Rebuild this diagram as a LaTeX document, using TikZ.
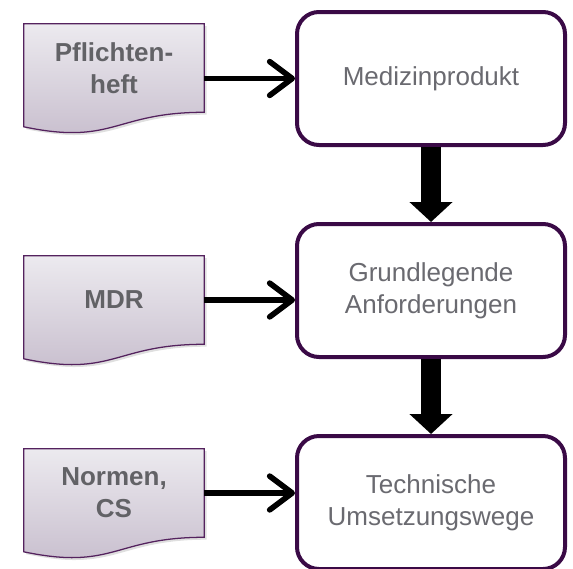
\documentclass[tikz,border=0pt]{standalone}
\usepackage{fontspec}
\setmainfont{Liberation Sans}
\usepackage{xcolor}
\usepackage{tikz}
\usetikzlibrary{calc, arrows.meta, positioning, backgrounds, shadows}
\definecolor{StagePurple}{RGB}{58, 10, 70}
\definecolor{DocPurple}{RGB}{84, 34, 94}
\definecolor{DocTop}{RGB}{236, 234, 239}
\definecolor{DocBottom}{RGB}{198, 188, 204}
\definecolor{StageGrey}{RGB}{106, 106, 112}
\definecolor{DocGrey}{RGB}{98, 98, 102}

\begin{document}
\begin{tikzpicture}[
    node distance=1.875cm,
    stage/.style={rectangle, rounded corners=0.55cm, draw=StagePurple, line width=0.1cm, fill=white, minimum width=6.7cm, minimum height=3.325cm, align=center, text=StageGrey, font=\fontsize{18.5}{22.8}\selectfont},
    doc/.style={rectangle, minimum width=4.5cm, minimum height=2.2cm, align=center, text=DocGrey, font=\bfseries\fontsize{18.5}{22.8}\selectfont},
    docpage/.style={draw=DocPurple, line width=0.9pt, top color=DocTop, bottom color=DocBottom, drop shadow={opacity=0.25, shadow xshift=0.06cm, shadow yshift=-0.06cm}},
    feed/.style={-{Straight Barb[length=0pt 4, width=0pt 6, round]}, line width=4pt},
    flow/.style={-{Triangle[length=0pt 1, width=0pt 2.1]}, line width=0.5cm}
  ]
  \useasboundingbox (0,0) rectangle (14.325,-14.2);

  \node[stage] (med) at (10.775,-1.9625) {Medizinprodukt};
  \node[stage, below=of med] (grund) {Grundlegende\\Anforderungen};
  \node[stage, below=of grund] (tech) {Technische\\Umsetzungswege};

  \node[doc] (pfl) at (2.85,-1.7) {Pflichten-\\heft};
  \node[doc] (mdr) at (2.85,-7.5) {MDR};
  \node[doc] (norm) at (2.85,-12.325) {Normen,\\CS};

  % document outlines behind the labels
  \begin{scope}[on background layer]
    \foreach \d in {pfl, mdr, norm}
      \draw[docpage] (\d.north west) -- (\d.north east) -- (\d.south east)
        .. controls (\d.south) and ($(\d.south)+(0,-0.8375)$) .. ($(\d.south west)+(0,-0.3625)$) -- cycle;
  \end{scope}

  \draw[feed] (pfl.east |- med) -- (med.west);
  \draw[feed] (mdr.east) -- (mdr.east -| grund.west);
  \draw[feed] (norm.east) -- (norm.east -| tech.west);

  \draw[flow] (med.south) -- (grund.north);
  \draw[flow] (grund.south) -- (tech.north);
\end{tikzpicture}
\end{document}
